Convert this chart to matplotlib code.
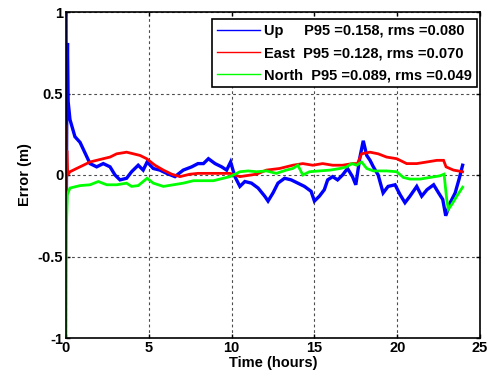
import matplotlib
matplotlib.use("Agg")
import matplotlib.pyplot as plt
from matplotlib.lines import Line2D

# ---------------------------------------------------------
# Data (time in hours, error in m)
# ---------------------------------------------------------

up_t = [0.0, 0.02, 0.05, 0.09, 0.13, 0.24, 0.54, 0.85, 1.15, 1.45, 1.85, 2.25,
        2.66, 2.96, 3.26, 3.66, 3.96, 4.36, 4.66, 4.9, 5.27, 5.67, 6.08, 6.58,
        7.08, 7.59, 7.97, 8.3, 8.6, 9.0, 9.4, 9.7, 9.94, 10.2, 10.5, 10.8,
        11.2, 11.6, 12.0, 12.2, 12.5, 12.8, 13.2, 13.6, 14.0, 14.4, 14.8, 15.0,
        15.3, 15.6, 15.8, 16.1, 16.4, 16.7, 17.0, 17.3, 17.5, 17.75, 17.95,
        18.16, 18.36, 18.56, 18.85, 19.15, 19.45, 19.87, 20.17, 20.47, 20.77,
        21.18, 21.48, 21.8, 22.2, 22.5, 22.75, 22.93, 23.2, 23.5, 23.75, 23.95]
up_v = [1.0, -0.2, 0.5, 0.81, 0.45, 0.34, 0.235, 0.2, 0.135, 0.07, 0.05, 0.07,
        0.05, 0.0, -0.03, -0.02, 0.02, 0.06, 0.03, 0.08, 0.04, 0.03, 0.01, -0.01,
        0.03, 0.05, 0.07, 0.07, 0.1, 0.07, 0.05, 0.03, 0.08, -0.01, -0.07, -0.04,
        -0.05, -0.08, -0.13, -0.16, -0.11, -0.05, -0.02, -0.03, -0.05, -0.07, -0.1, -0.16,
        -0.13, -0.09, -0.03, -0.01, -0.03, 0.0, 0.04, -0.01, -0.06, 0.11, 0.21,
        0.12, 0.09, 0.05, 0.0, -0.11, -0.07, -0.06, -0.12, -0.17, -0.13,
        -0.07, -0.13, -0.09, -0.06, -0.11, -0.15, -0.25, -0.17, -0.11, -0.02, 0.06]

east_t = [0.0, 0.02, 0.05, 0.1, 0.24, 0.64, 1.05, 1.45, 1.85, 2.25, 2.66, 3.06,
          3.66, 4.07, 4.47, 4.87, 5.37, 5.88, 6.38, 6.88, 7.49, 7.97, 9.0, 9.9,
          10.5, 11.5, 12.1, 12.9, 13.7, 14.3, 14.9, 15.5, 16.1, 16.7, 17.3,
          17.6, 17.85, 18.36, 18.85, 19.36, 19.97, 20.57, 21.18, 21.8, 22.4,
          22.8, 22.95, 23.4, 23.95]
east_v = [0.3, -0.25, 0.15, 0.0, 0.02, 0.04, 0.06, 0.08, 0.09, 0.1, 0.11, 0.13,
          0.14, 0.13, 0.12, 0.1, 0.06, 0.03, 0.005, -0.01, 0.005, 0.01, 0.01, 0.01,
          -0.01, 0.005, 0.03, 0.04, 0.06, 0.07, 0.06, 0.07, 0.06, 0.06, 0.07,
          0.07, 0.13, 0.14, 0.13, 0.11, 0.1, 0.07, 0.07, 0.08, 0.09,
          0.09, 0.05, 0.03, 0.02]

north_t = [0.0, 0.03, 0.08, 0.24, 0.85, 1.45, 1.95, 2.46, 3.06, 3.66, 3.96, 4.36,
           4.66, 4.9, 5.27, 5.88, 6.48, 7.08, 7.69, 8.29, 8.9, 9.5, 9.9, 10.5,
           11.0, 11.5, 12.1, 12.7, 13.3, 13.7, 14.0, 14.3, 14.7, 15.3, 15.94,
           16.55, 16.95, 17.25, 17.55, 17.85, 18.16, 18.56, 19.36, 19.97, 20.37,
           20.77, 21.38, 21.98, 22.58, 22.83, 22.99, 23.09, 23.3, 23.6, 23.95]
north_v = [-1.0, -0.3, -0.12, -0.08, -0.065, -0.06, -0.04, -0.06, -0.06, -0.05, -0.07, -0.065,
           -0.04, -0.02, -0.05, -0.07, -0.06, -0.05, -0.035, -0.035, -0.035, -0.02, -0.01, 0.02,
           0.025, 0.02, 0.025, 0.01, 0.03, 0.04, 0.06, 0.0, 0.02, 0.025, 0.03,
           0.04, 0.05, 0.07, 0.06, 0.08, 0.04, 0.025, 0.025, 0.02, -0.015,
           -0.025, -0.025, -0.015, -0.005, 0.005, -0.15, -0.21, -0.18, -0.13, -0.075]

labels = ["Up     P95 =0.158, rms =0.080",
          "East  P95 =0.128, rms =0.070",
          "North  P95 =0.089, rms =0.049"]
colors = ["#0000ff", "#ff0000", "#00ff00"]

x_ticks = [0, 5, 10, 15, 20, 25]
y_ticks = [-1, -0.5, 0, 0.5, 1]
y_tick_labels = ["-1", "-0.5", "0", "0.5", "1"]


def main():
    plt.rcParams["font.family"] = ["Liberation Sans", "DejaVu Sans"]
    plt.rcParams["font.weight"] = "bold"
    plt.rcParams["axes.unicode_minus"] = False

    fig = plt.figure(figsize=(4.92, 3.79), dpi=100)
    ax = fig.add_axes([66 / 492, 1 - 338 / 379, 414 / 492, 326 / 379])

    series = [(up_t, up_v, 2.4), (east_t, east_v, 2.0), (north_t, north_v, 2.0)]
    for (t, v, lw), c in zip(series, colors):
        ax.plot(t, v, color=c, lw=lw, solid_joinstyle="miter")

    ax.set_xlim(0, 25)
    ax.set_ylim(-1, 1)
    ax.set_xticks(x_ticks)
    ax.set_yticks(y_ticks)
    ax.set_yticklabels(y_tick_labels)
    ax.tick_params(direction="in", top=True, right=True, length=3,
                   width=1, labelsize=10.5, pad=2)
    for lab in ax.get_xticklabels() + ax.get_yticklabels():
        lab.set_fontweight("bold")
    for sp in ax.spines.values():
        sp.set_linewidth(1.2)
    ax.grid(True, color="0.3", lw=0.8, linestyle=(0, (2.5, 2.5)))
    ax.set_axisbelow(True)

    ax.set_xlabel("Time (hours)", fontsize=10.5, fontweight="bold", labelpad=1)
    ax.set_ylabel("Error (m)", fontsize=10.5, fontweight="bold", labelpad=4)

    handles = [Line2D([], [], color=c, lw=1) for c in colors]
    leg = ax.legend(handles, labels, loc="upper right",
                    bbox_to_anchor=(411 / 414, 1 - 7 / 326),
                    prop={"size": 10.5, "weight": "bold"},
                    fancybox=False, framealpha=1, edgecolor="black",
                    handlelength=2.9, handletextpad=0.3, labelspacing=0.55,
                    borderpad=0.35, borderaxespad=0)
    leg.get_frame().set_linewidth(1.2)

    fig.savefig("out.png", dpi=100)


if __name__ == "__main__":
    main()
